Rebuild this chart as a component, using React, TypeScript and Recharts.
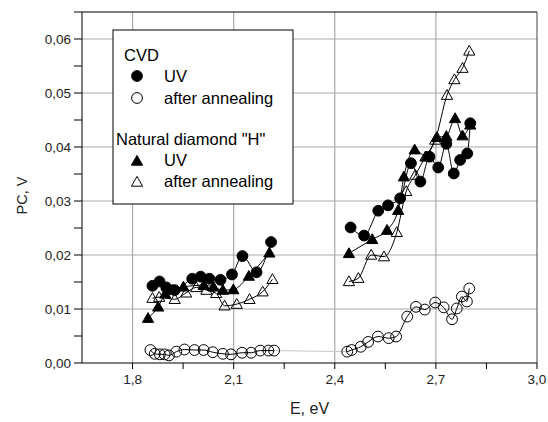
import React from "react";
import {
  LineChart,
  Line,
  XAxis,
  YAxis,
  ReferenceLine,
} from "recharts";

document.body.style.margin = "0";

const FONT = '"Liberation Sans", Arial, sans-serif';

// CVD, UV (filled circles)
const cvdUvLeft = [
  { e: 1.859, pc: 0.0143 },
  { e: 1.88, pc: 0.0151 },
  { e: 1.9, pc: 0.014 },
  { e: 1.925, pc: 0.0135 },
  { e: 1.977, pc: 0.0156 },
  { e: 2.002, pc: 0.016 },
  { e: 2.028, pc: 0.0156 },
  { e: 2.061, pc: 0.0154 },
  { e: 2.095, pc: 0.0164 },
  { e: 2.126, pc: 0.0198 },
  { e: 2.168, pc: 0.0168 },
  { e: 2.211, pc: 0.0224 },
];
const cvdUvRight = [
  { e: 2.447, pc: 0.0251 },
  { e: 2.487, pc: 0.0236 },
  { e: 2.529, pc: 0.0282 },
  { e: 2.558, pc: 0.0292 },
  { e: 2.594, pc: 0.0305 },
  { e: 2.626, pc: 0.037 },
  { e: 2.654, pc: 0.0336 },
  { e: 2.681, pc: 0.0382 },
  { e: 2.707, pc: 0.0362 },
  { e: 2.731, pc: 0.0406 },
  { e: 2.753, pc: 0.0351 },
  { e: 2.772, pc: 0.0376 },
  { e: 2.793, pc: 0.0388 },
  { e: 2.802, pc: 0.0444 },
];

// CVD, after annealing (open circles)
const cvdAnnLeft = [
  { e: 1.853, pc: 0.0024 },
  { e: 1.866, pc: 0.0017 },
  { e: 1.881, pc: 0.0016 },
  { e: 1.895, pc: 0.0016 },
  { e: 1.908, pc: 0.0014 },
  { e: 1.93, pc: 0.0021 },
  { e: 1.954, pc: 0.0025 },
  { e: 1.984, pc: 0.0024 },
  { e: 2.011, pc: 0.0024 },
  { e: 2.038, pc: 0.002 },
  { e: 2.068, pc: 0.0017 },
  { e: 2.092, pc: 0.0016 },
  { e: 2.125, pc: 0.0019 },
  { e: 2.152, pc: 0.0019 },
  { e: 2.179, pc: 0.0023 },
  { e: 2.203, pc: 0.0023 },
  { e: 2.22, pc: 0.0023 },
];
const cvdAnnRight = [
  { e: 2.437, pc: 0.0021 },
  { e: 2.45, pc: 0.0024 },
  { e: 2.477, pc: 0.003 },
  { e: 2.499, pc: 0.0039 },
  { e: 2.528, pc: 0.0049 },
  { e: 2.56, pc: 0.0046 },
  { e: 2.582, pc: 0.0049 },
  { e: 2.615, pc: 0.0086 },
  { e: 2.641, pc: 0.0104 },
  { e: 2.667, pc: 0.0099 },
  { e: 2.698, pc: 0.0112 },
  { e: 2.723, pc: 0.0103 },
  { e: 2.748, pc: 0.0081 },
  { e: 2.762, pc: 0.0101 },
  { e: 2.777, pc: 0.0123 },
  { e: 2.792, pc: 0.0114 },
  { e: 2.799, pc: 0.0138 },
];

// Natural diamond "H", UV (filled triangles)
const natUvLeft = [
  { e: 1.846, pc: 0.0083 },
  { e: 1.876, pc: 0.0104 },
  { e: 1.897, pc: 0.0128 },
  { e: 1.918, pc: 0.0135 },
  { e: 1.951, pc: 0.0141 },
  { e: 2.011, pc: 0.0144 },
  { e: 2.04, pc: 0.0141 },
  { e: 2.068, pc: 0.0135 },
  { e: 2.099, pc: 0.0136 },
  { e: 2.145, pc: 0.0161 },
  { e: 2.206, pc: 0.0204 },
];
const natUvRight = [
  { e: 2.442, pc: 0.0203 },
  { e: 2.511, pc: 0.0229 },
  { e: 2.555, pc: 0.0246 },
  { e: 2.588, pc: 0.0283 },
  { e: 2.605, pc: 0.0345 },
  { e: 2.637, pc: 0.0395 },
  { e: 2.672, pc: 0.0382 },
  { e: 2.703, pc: 0.0418 },
  { e: 2.731, pc: 0.042 },
  { e: 2.757, pc: 0.0453 },
  { e: 2.779, pc: 0.0421 },
  { e: 2.802, pc: 0.0441 },
];

// Natural diamond "H", after annealing (open triangles)
const natAnnLeft = [
  { e: 1.859, pc: 0.012 },
  { e: 1.879, pc: 0.0122 },
  { e: 1.925, pc: 0.0118 },
  { e: 1.959, pc: 0.013 },
  { e: 1.989, pc: 0.014 },
  { e: 2.019, pc: 0.0135 },
  { e: 2.048, pc: 0.0129 },
  { e: 2.073, pc: 0.0106 },
  { e: 2.109, pc: 0.0109 },
  { e: 2.147, pc: 0.0118 },
  { e: 2.186, pc: 0.0132 },
  { e: 2.215, pc: 0.0155 },
];
const natAnnRight = [
  { e: 2.442, pc: 0.0151 },
  { e: 2.47, pc: 0.0157 },
  { e: 2.508, pc: 0.02 },
  { e: 2.546, pc: 0.0197 },
  { e: 2.584, pc: 0.0242 },
  { e: 2.612, pc: 0.0318 },
  { e: 2.639, pc: 0.0348 },
  { e: 2.669, pc: 0.0382 },
  { e: 2.698, pc: 0.0413 },
  { e: 2.733, pc: 0.0496 },
  { e: 2.755, pc: 0.0525 },
  { e: 2.779, pc: 0.0546 },
  { e: 2.799, pc: 0.0578 },
];

// the open-circle series is joined across the gap by a faint line
const cvdAnnGap = [cvdAnnLeft[cvdAnnLeft.length - 1], cvdAnnRight[0]];

const xTicks = [1.8, 1.95, 2.1, 2.25, 2.4, 2.55, 2.7, 2.85, 3.0];
const xMajor = [1.8, 2.1, 2.4, 2.7, 3.0];
const yTicks = [
  0, 0.005, 0.01, 0.015, 0.02, 0.025, 0.03, 0.035, 0.04, 0.045, 0.05, 0.055,
  0.06, 0.065,
];
const yMajor = [0, 0.01, 0.02, 0.03, 0.04, 0.05, 0.06];

const isMajor = (v: number, list: number[]) =>
  list.some((m) => Math.abs(m - v) < 1e-9);

const Circle = ({ cx, cy, filled }) => (
  <circle
    cx={cx}
    cy={cy}
    r={5.4}
    fill={filled ? "#000" : "none"}
    stroke="#000"
    strokeWidth={1}
  />
);

const Triangle = ({ cx, cy, filled }) => {
  const s = 5.6;
  const pts = `${cx},${cy - s} ${cx - s},${cy + s * 0.75} ${cx + s},${cy + s * 0.75}`;
  return (
    <polygon
      points={pts}
      fill={filled ? "#000" : "none"}
      stroke="#000"
      strokeWidth={1}
    />
  );
};

const dotFn = (kind: "circle" | "tri", filled: boolean) => (props) => {
  const { cx, cy, index } = props;
  if (cx == null || cy == null) return <g key={index} />;
  return (
    <g key={index}>
      {kind === "circle" ? (
        <Circle cx={cx} cy={cy} filled={filled} />
      ) : (
        <Triangle cx={cx} cy={cy} filled={filled} />
      )}
    </g>
  );
};

const YTick = (props) => {
  const { x, y, payload } = props;
  if (!isMajor(payload.value, yMajor)) return <g />;
  return (
    <text
      x={x}
      y={y}
      dx={-1}
      dy={4.5}
      textAnchor="end"
      fontSize={13.5}
      fontFamily={FONT}
      fill="#222"
    >
      {payload.value.toFixed(2).replace(".", ",")}
    </text>
  );
};

const XTick = (props) => {
  const { x, y, payload } = props;
  if (!isMajor(payload.value, xMajor)) return <g />;
  return (
    <text
      x={x}
      y={y}
      dy={13}
      textAnchor="middle"
      fontSize={13.5}
      fontFamily={FONT}
      fill="#222"
    >
      {payload.value.toFixed(1).replace(".", ",")}
    </text>
  );
};

const series = [
  { data: cvdUvLeft, kind: "circle", filled: true },
  { data: cvdUvRight, kind: "circle", filled: true },
  { data: cvdAnnLeft, kind: "circle", filled: false },
  { data: cvdAnnRight, kind: "circle", filled: false },
  { data: natUvLeft, kind: "tri", filled: true },
  { data: natUvRight, kind: "tri", filled: true },
  { data: natAnnLeft, kind: "tri", filled: false },
  { data: natAnnRight, kind: "tri", filled: false },
] as const;

const LegendBox = () => (
  <svg
    width={182}
    height={176}
    style={{ position: "absolute", left: 112, top: 29 }}
    fontFamily={FONT}
  >
    <rect x={1} y={1} width={180} height={174} fill="#fff" stroke="#000" />
    <text x={12} y={32} fontSize={16.5}>CVD</text>
    <Circle cx={25} cy={47} filled />
    <text x={52} y={53} fontSize={16.5}>UV</text>
    <Circle cx={25} cy={69} filled={false} />
    <text x={52} y={75} fontSize={16.5}>after annealing</text>
    <text x={4} y={116} fontSize={16.5}>Natural diamond "H"</text>
    <Triangle cx={25} cy={132} filled />
    <text x={52} y={137} fontSize={16.5}>UV</text>
    <Triangle cx={25} cy={153} filled={false} />
    <text x={52} y={158} fontSize={16.5}>after annealing</text>
  </svg>
);

export default function App() {
  return (
    <div style={{ position: "relative", width: 548, height: 422, background: "#fff" }}>
      <LineChart
        width={548}
        height={422}
        margin={{ top: 12, right: 11, bottom: 0, left: 0 }}
      >
        <XAxis
          type="number"
          dataKey="e"
          domain={[1.65, 3.0]}
          ticks={xTicks}
          allowDataOverflow
          height={59}
          stroke="#000"
          tickSize={6}
          tick={<XTick />}
          label={{
            content: ({ viewBox }) => (
              <text
                x={viewBox.x + viewBox.width / 2}
                y={viewBox.y + 51}
                textAnchor="middle"
                fontSize={16}
                fontFamily={FONT}
                fill="#222"
              >
                E, eV
              </text>
            ),
          }}
        />
        <YAxis
          type="number"
          dataKey="pc"
          domain={[0, 0.065]}
          ticks={yTicks}
          allowDataOverflow
          width={82}
          stroke="#000"
          tickSize={8}
          tick={<YTick />}
          label={{
            content: ({ viewBox }) => {
              const cx = 22;
              const cy = viewBox.y + viewBox.height / 2 + 8;
              return (
                <text
                  x={cx}
                  y={cy}
                  transform={`rotate(-90, ${cx}, ${cy})`}
                  textAnchor="middle"
                  dominantBaseline="central"
                  fontSize={14.5}
                  fontFamily={FONT}
                  fill="#222"
                >
                  PC, V
                </text>
              );
            },
          }}
        />
        {xMajor.slice(0, -1).map((v) => (
          <ReferenceLine key={"gx" + v} x={v} stroke="#aaa" strokeWidth={1.2} />
        ))}
        {yMajor.slice(1).map((v) => (
          <ReferenceLine key={"gy" + v} y={v} stroke="#aaa" strokeWidth={1.2} />
        ))}
        <ReferenceLine y={0.065} stroke="#000" />
        <ReferenceLine x={3.0} stroke="#444" />
        <Line
          data={cvdAnnGap}
          dataKey="pc"
          stroke="#c8c8c8"
          strokeWidth={1}
          dot={false}
          isAnimationActive={false}
        />
        {series.map((s, i) => (
          <Line
            key={i}
            data={s.data as any}
            dataKey="pc"
            type="monotone"
            stroke="#000"
            strokeWidth={1}
            dot={dotFn(s.kind, s.filled)}
            activeDot={false}
            isAnimationActive={false}
          />
        ))}
      </LineChart>
      <LegendBox />
    </div>
  );
}
